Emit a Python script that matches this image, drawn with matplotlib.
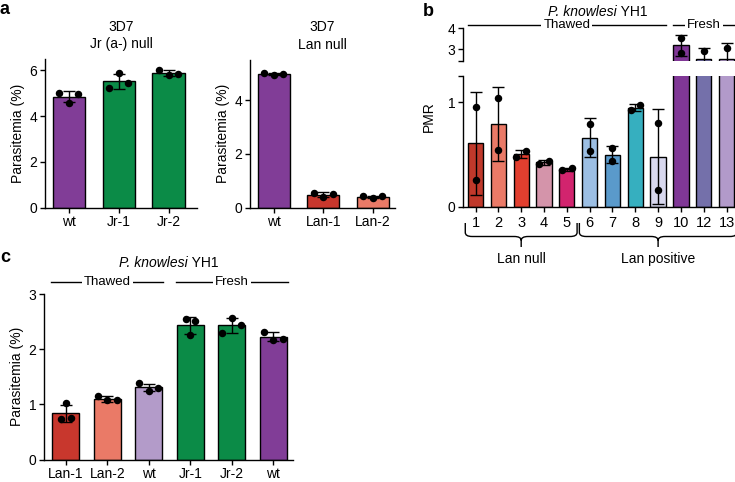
import matplotlib

matplotlib.use("Agg")
import matplotlib.pyplot as plt
import matplotlib.transforms as mtransforms
import numpy as np
from matplotlib.patches import PathPatch
from matplotlib.path import Path

W, H = 735, 482

plt.rcParams["font.family"] = ["Liberation Sans", "DejaVu Sans"]
plt.rcParams["font.size"] = 10
plt.rcParams["axes.linewidth"] = 1.0

PURPLE = "#813d97"
GREEN = "#0b8b47"
RED = "#c8372d"
SALMON = "#ea7a67"
LILAC = "#b39bc9"

# panel a (left): 3D7 Jr (a-) null
A1_LABELS = ["wt", "Jr-1", "Jr-2"]
A1_POINTS = [[5.00, 4.58, 4.97], [5.25, 5.88, 5.46], [6.04, 5.78, 5.83]]
A1_COLORS = [PURPLE, GREEN, GREEN]

# panel a (right): 3D7 Lan null
A2_LABELS = ["wt", "Lan-1", "Lan-2"]
A2_POINTS = [[4.99, 4.92, 4.98], [0.55, 0.39, 0.52], [0.42, 0.35, 0.42]]
A2_COLORS = [PURPLE, RED, SALMON]

# panel b: P. knowlesi YH1, PMR per donor
B_LABELS = ["1", "2", "3", "4", "5", "6", "7", "8", "9", "10", "12", "13"]
B_POINTS = [
    [0.95, 0.26], [1.04, 0.54], [0.48, 0.53], [0.41, 0.44],
    [0.35, 0.37], [0.79, 0.53], [0.56, 0.44], [0.92, 0.97],
    [0.80, 0.16], [3.54, 2.82], [2.90, 2.14], [3.05, 1.99],
]
B_COLORS = [
    "#c0392b", "#ea7a67", "#e23f2f", "#d494aa", "#d2246e", "#9cbfe4",
    "#5a9acb", "#36afbf", "#d8d8ee", "#803796", "#7470aa", "#b29aca",
]
B_GROUPS = [("Lan null", 0, 4), ("Lan positive", 5, 11)]
B_STATES = [("Thawed", 0, 8), ("Fresh", 9, 11)]

# panel c: P. knowlesi YH1 parasitemia
C_LABELS = ["Lan-1", "Lan-2", "wt", "Jr-1", "Jr-2", "wt"]
C_POINTS = [
    [0.74, 1.02, 0.76], [1.15, 1.07, 1.07], [1.38, 1.25, 1.30],
    [2.54, 2.26, 2.51], [2.30, 2.57, 2.43], [2.32, 2.17, 2.18],
]
C_COLORS = [RED, SALMON, LILAC, GREEN, GREEN, PURPLE]
C_STATES = [("Thawed", 0, 2), ("Fresh", 3, 5)]

fig = plt.figure(figsize=(W / 100, H / 100), dpi=100)


def px_axes(left, top, right, bottom):
    return fig.add_axes([left / W, 1 - bottom / H, (right - left) / W, (bottom - top) / H])


def fy(ypx):
    return 1 - ypx / H


def style(ax):
    for s in ("top", "right"):
        ax.spines[s].set_visible(False)
    ax.tick_params(direction="out", length=3.5, width=1, labelsize=10, pad=2)


def swarm(ax, values, gap=9.5, thresh=10.5):
    # side-by-side offsets for dots that would overlap (in data units)
    pos = ax.get_position()
    x0, x1 = ax.get_xlim()
    y0, y1 = ax.get_ylim()
    px_x = pos.width * W / (x1 - x0)
    px_y = pos.height * H / (y1 - y0)
    order = np.argsort(values)
    rows, cur = [], [order[0]]
    for a, b in zip(order[:-1], order[1:]):
        if (values[b] - values[a]) * px_y < thresh:
            cur.append(b)
        else:
            rows.append(cur)
            cur = [b]
    rows.append(cur)
    off = np.zeros(len(values))
    for r in rows:
        r = sorted(r)
        for k, i in enumerate(r):
            off[i] = (k - (len(r) - 1) / 2) * gap / px_x
    return off


def bars(ax, points, colors, width=0.65):
    x = np.arange(len(points))
    means = [np.mean(p) for p in points]
    sds = [np.std(p, ddof=1) for p in points]
    ax.bar(x, means, width=width, color=colors, edgecolor="black", linewidth=1, zorder=2)
    ax.errorbar(x, means, yerr=sds, fmt="none", ecolor="black", elinewidth=1,
                capsize=4.3, capthick=1, zorder=3)
    for i, p in enumerate(points):
        off = swarm(ax, np.array(p))
        ax.plot(i + off, p, "o", color="black", ms=5.4, mec="none", zorder=4)
    return means


# ---- panel a ----
ax1 = px_axes(45, 59, 197, 207.7)
style(ax1)
ax1.set_xlim(-0.48, 2.57)
ax1.set_ylim(0, 6.5)
bars(ax1, A1_POINTS, A1_COLORS)
ax1.set_xticks(range(3), A1_LABELS)
ax1.set_yticks([0, 2, 4, 6])
ax1.set_ylabel("Parasitemia (%)", labelpad=3)
ax1.set_title("3D7\nJr (a-) null", fontsize=10, pad=8, linespacing=1.3)

ax2 = px_axes(250, 59.7, 395, 207.7)
style(ax2)
ax2.set_xlim(-0.48, 2.45)
ax2.set_ylim(0, 5.5)
bars(ax2, A2_POINTS, A2_COLORS)
ax2.set_xticks(range(3), A2_LABELS)
ax2.set_yticks([0, 2, 4])
ax2.set_ylabel("Parasitemia (%)", labelpad=3)
ax2.set_title("3D7\nLan null", fontsize=10, pad=8, linespacing=1.3)

# ---- panel b (broken axis) ----
BX = (-0.55, 11.37)
axb = px_axes(463, 75.75, 735, 207)
axt = px_axes(463, 28, 735, 61)
for ax, lim in ((axb, (0, 1.25)), (axt, (2.43, 4.0))):
    style(ax)
    ax.set_xlim(*BX)
    ax.set_ylim(*lim)
    bars(ax, B_POINTS, B_COLORS, width=0.67)
axt.spines["bottom"].set_visible(False)
axt.set_xticks([])
axt.set_yticks([2.43, 3, 4], ["", "3", "4"])
axb.set_yticks([0, 1, 1.25], ["0", "1", ""])
axb.set_xticks(range(len(B_LABELS)), B_LABELS, fontsize=10.5)
axb.tick_params(axis="x", pad=3)
fig.text(429 / W, fy(117), "PMR", rotation=90, ha="center", va="center", fontsize=10)

tb = mtransforms.blended_transform_factory(axb.transData, fig.transFigure)
for name, i0, i1 in B_GROUPS:
    xl, xr, xm = i0 - 0.45, i1 + 0.45, (i0 + i1) / 2
    yt, yb, ytip, rr, r = fy(223), fy(236.5), fy(247), 4 / H, 0.3
    verts = [
        (xl, yt), (xl, yb + rr), (xl, yb), (xl + r, yb), (xm - r, yb), (xm, yb), (xm, yb - rr),
        (xm, ytip), (xm, yb - rr), (xm, yb), (xm + r, yb), (xr - r, yb), (xr, yb), (xr, yb + rr),
        (xr, yt),
    ]
    codes = [
        Path.MOVETO, Path.LINETO, Path.CURVE3, Path.CURVE3, Path.LINETO, Path.CURVE3, Path.CURVE3,
        Path.LINETO, Path.MOVETO, Path.CURVE3, Path.CURVE3, Path.LINETO, Path.CURVE3, Path.CURVE3,
        Path.LINETO,
    ]
    fig.add_artist(PathPatch(Path(verts, codes), transform=tb, fill=False, lw=1, color="black"))
    fig.text(xm, fy(259), name, transform=tb, ha="center", va="center", fontsize=10)


def state_lines(ax, states, ypx, pad):
    t = mtransforms.blended_transform_factory(ax.transData, fig.transFigure)
    for name, i0, i1 in states:
        xl, xr = i0 - pad, i1 + pad
        fig.add_artist(plt.Line2D([xl, xr], [fy(ypx), fy(ypx)], transform=t, lw=1, color="black"))
        fig.text((xl + xr) / 2, fy(ypx), name, transform=t, ha="center", va="center", fontsize=9.5,
                 bbox=dict(facecolor="white", edgecolor="none", pad=1.5))


state_lines(axb, B_STATES, 25, 0.35)


def italic_title(xc, ypx):
    fig.text(xc / W, fy(ypx), "P. knowlesi", style="italic", ha="right", va="center", fontsize=10)
    fig.text(xc / W, fy(ypx), " YH1", ha="left", va="center", fontsize=10)


italic_title(617, 12)

# ---- panel c ----
axc = px_axes(44, 294, 293, 459.5)
style(axc)
axc.set_xlim(-0.53, 5.48)
axc.set_ylim(0, 3)
bars(axc, C_POINTS, C_COLORS)
axc.set_xticks(range(len(C_LABELS)), C_LABELS)
axc.set_yticks([0, 1, 2, 3])
axc.set_ylabel("Parasitemia (%)", labelpad=3)
state_lines(axc, C_STATES, 282.3, 0.35)
italic_title(188, 263)

for lab, x, y in (("a", 5, 10), ("b", 428, 12), ("c", 5, 258)):
    fig.text(x / W, fy(y), lab, fontsize=13, fontweight="bold", ha="center", va="center")

fig.savefig("out.png", dpi=100)
